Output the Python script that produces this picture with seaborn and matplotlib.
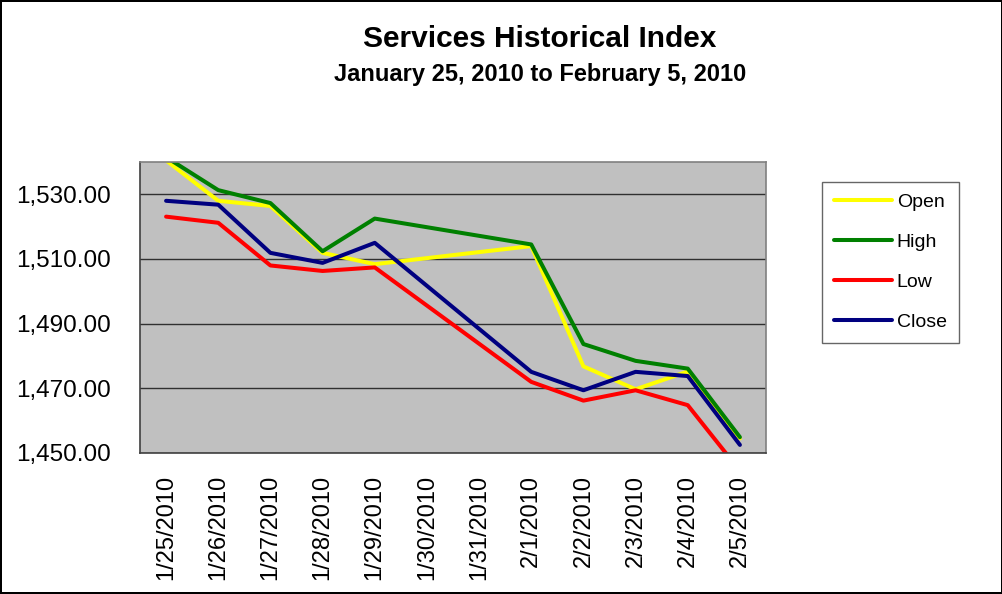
import matplotlib
matplotlib.use("Agg")
import matplotlib.pyplot as plt
import matplotlib.dates as mdates
from matplotlib.ticker import FixedLocator, FuncFormatter
import seaborn as sns
import pandas as pd
import numpy as np

# ---- data ----
trade_dates = ["2010-01-25", "2010-01-26", "2010-01-27", "2010-01-28", "2010-01-29",
               "2010-02-01", "2010-02-02", "2010-02-03", "2010-02-04", "2010-02-05"]
open_vals = [1540.5, 1528.0, 1526.4, 1511.9, 1508.4, 1514.0, 1476.8, 1469.7, 1475.2, 1454.5]
high_vals = [1541.5, 1531.3, 1527.3, 1512.4, 1522.5, 1514.5, 1483.7, 1478.5, 1476.1, 1454.9]
low_vals = [1523.1, 1521.2, 1508.0, 1506.3, 1507.4, 1472.0, 1466.2, 1469.4, 1464.8, 1444.5]
close_vals = [1528.0, 1526.8, 1511.9, 1508.8, 1515.0, 1475.1, 1469.4, 1475.1, 1473.8, 1452.5]
series_names = ["Open", "High", "Low", "Close"]
axis_days = ["2010-01-25", "2010-01-26", "2010-01-27", "2010-01-28", "2010-01-29", "2010-01-30",
             "2010-01-31", "2010-02-01", "2010-02-02", "2010-02-03", "2010-02-04", "2010-02-05"]
x_labels = ["1/25/2010", "1/26/2010", "1/27/2010", "1/28/2010", "1/29/2010", "1/30/2010",
            "1/31/2010", "2/1/2010", "2/2/2010", "2/3/2010", "2/4/2010", "2/5/2010"]
y_ticks = [1450, 1470, 1490, 1510, 1530]
title = "Services Historical Index"
subtitle = "January 25, 2010 to February 5, 2010"
colors = {"Open": "#FFFF00", "High": "#008000", "Low": "#FF0000", "Close": "#000080"}

df = pd.DataFrame({
    "Date": pd.to_datetime(trade_dates * 4),
    "Value": open_vals + high_vals + low_vals + close_vals,
    "Series": sum([[n] * len(trade_dates) for n in series_names], []),
})

sns.set_style("white")
plt.rcParams["font.family"] = ["Liberation Sans", "DejaVu Sans"]
plt.rcParams["text.color"] = "black"
plt.rcParams["xtick.color"] = "black"
plt.rcParams["ytick.color"] = "black"

LW = 2.9

fig = plt.figure(figsize=(10.03, 5.94), dpi=100)
fig.patch.set_facecolor("white")
fig.patch.set_edgecolor("black")
fig.patch.set_linewidth(1.5)

ax = fig.add_axes([140 / 1003, 1 - 453 / 594, (766 - 140) / 1003, (453 - 162) / 594])
ax.set_facecolor("#C0C0C0")

sns.lineplot(data=df, x="Date", y="Value", hue="Series", hue_order=series_names,
             palette=colors, linewidth=LW, ax=ax, legend=True, sort=False)

day_nums = mdates.date2num(pd.to_datetime(axis_days))
ax.set_xlim(day_nums[0] - 0.5, day_nums[-1] + 0.5)
ax.set_ylim(1450, 1540)

ax.xaxis.set_major_locator(FixedLocator(day_nums))
ax.set_xticklabels(x_labels, rotation=90, fontsize=17, va="top", ha="center")
ax.xaxis.set_minor_locator(FixedLocator(np.append(day_nums - 0.5, day_nums[-1] + 0.5)))
ax.tick_params(axis="x", which="major", length=0, pad=16)
ax.tick_params(axis="x", which="minor", length=6, width=1, color="#404040", direction="out")

ax.set_yticks(y_ticks)
ax.yaxis.set_major_formatter(FuncFormatter(lambda v, p: f"{v:,.2f}"))
ax.tick_params(axis="y", which="major", length=6, width=1, color="#404040",
               direction="out", labelsize=17.5, pad=15)
ax.tick_params(axis="both", which="both", labelcolor="black")

ax.grid(axis="y", color="#303030", linewidth=1)
ax.set_axisbelow(True)
ax.set_xlabel("")
ax.set_ylabel("")

ax.spines["left"].set_color("#404040")
ax.spines["bottom"].set_color("#404040")
ax.spines["top"].set_color("#808080")
ax.spines["right"].set_color("#808080")
for s in ax.spines.values():
    s.set_linewidth(1.2)

leg = ax.legend(loc="upper left", bbox_to_anchor=(822 / 1003, 1 - 182 / 594),
                bbox_transform=fig.transFigure, borderaxespad=0, frameon=True,
                fontsize=14, handlelength=3.0, labelspacing=1.15, handletextpad=0.25,
                borderpad=0.6, fancybox=False, title=None)
leg.get_frame().set_edgecolor("#404040")
leg.get_frame().set_linewidth(1)
for line in leg.get_lines():
    line.set_linewidth(LW)
for t in leg.get_texts():
    t.set_color("black")

fig.text(540 / 1003, 1 - 39 / 594, title, ha="center", va="center",
         fontsize=21.5, fontweight="bold", color="black")
fig.text(540 / 1003, 1 - 74 / 594, subtitle, ha="center", va="center",
         fontsize=17, fontweight="bold", color="black")

fig.savefig("out.png", dpi=100)
